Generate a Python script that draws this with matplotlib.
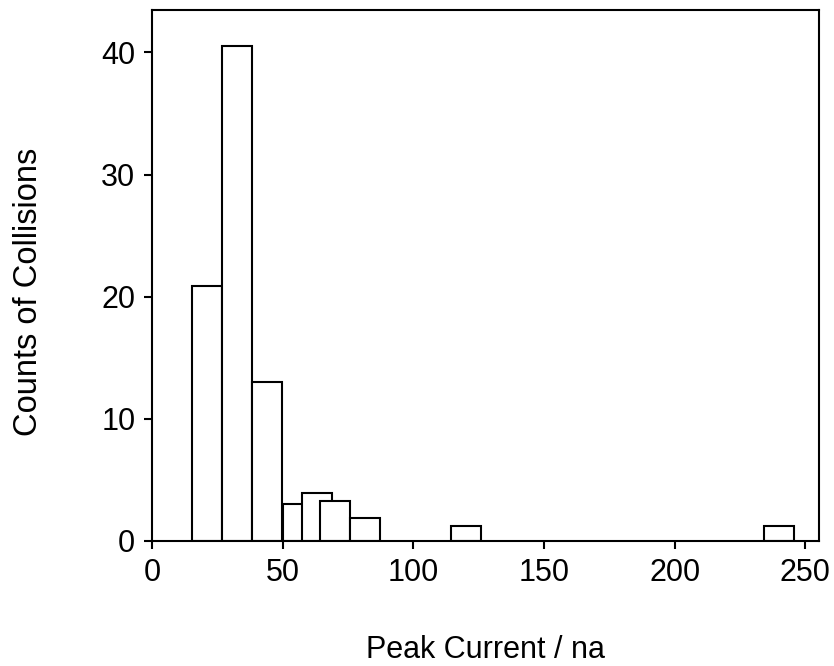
"""
Peak current histogram of collisions, redrawn from a figure.
"""

from matplotlib import pyplot as plt

# left edge of each bin (na), bin width and counts
bin_left = [15.2, 26.8, 38.3, 50.0, 57.3, 64.3, 75.8, 114.4, 234.2]
bin_width = 11.6
counts = [20.9, 40.5, 13.0, 3.0, 3.9, 3.3, 1.9, 1.2, 1.2]

x_ticks = [0, 50, 100, 150, 200, 250]
y_ticks = [0, 10, 20, 30, 40]


def main():
    plt.rcParams['font.family'] = ['Liberation Sans', 'DejaVu Sans']
    fig = plt.figure(figsize=(8.34, 6.66), dpi=100)
    ax = fig.add_axes([0.1823, 0.1877, 0.8, 0.797])

    # bars are drawn one after another so later ones cover earlier ones
    for left, h in zip(bin_left, counts):
        ax.bar(left, h, width=bin_width, align='edge', facecolor='white',
               edgecolor='black', linewidth=1.5)

    ax.set_xlim(0, 255.3)
    ax.set_ylim(0, 43.45)
    ax.set_xticks(x_ticks)
    ax.set_yticks(y_ticks)
    ax.tick_params(direction='out', length=6, width=1.5, labelsize=22,
                   top=False, right=False, pad=6)
    for side in ax.spines.values():
        side.set_linewidth(1.5)

    ax.set_xlabel('Peak Current / na', fontsize=22, labelpad=34)
    ax.set_ylabel('Counts of Collisions', fontsize=23.5)
    ax.yaxis.set_label_coords(-0.162, 0.47)

    fig.savefig('out.png', dpi=100)


if __name__ == '__main__':
    main()
